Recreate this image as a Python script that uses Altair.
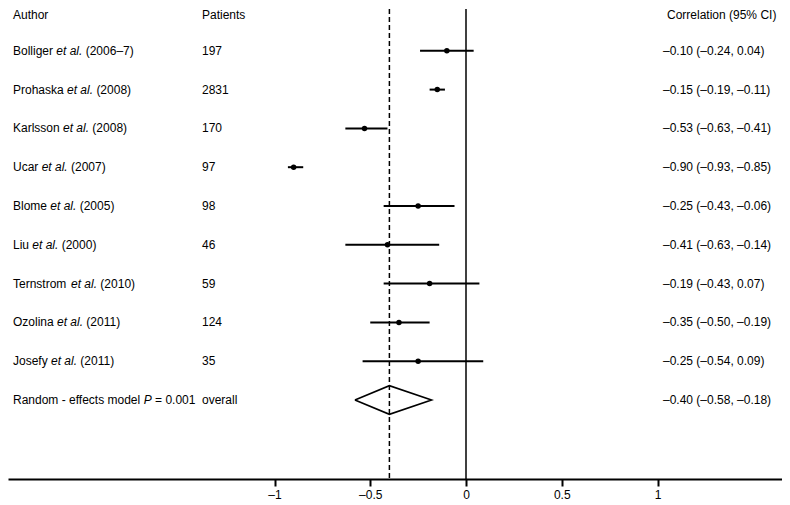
import altair as alt
import pandas as pd

# ---- data ----
names = ["Bolliger", "Prohaska", "Karlsson", "Ucar", "Blome", "Liu", "Ternstrom", "Ozolina", "Josefy"]
years = ["2006–7", "2008", "2008", "2007", "2005", "2000", "2010", "2011", "2011"]
patients = ["197", "2831", "170", "97", "98", "46", "59", "124", "35"]
est = [-0.10, -0.15, -0.53, -0.90, -0.25, -0.41, -0.19, -0.35, -0.25]
lo = [-0.24, -0.19, -0.63, -0.93, -0.43, -0.63, -0.43, -0.50, -0.54]
hi = [0.04, -0.11, -0.41, -0.85, -0.06, -0.14, 0.07, -0.19, 0.09]
pooled = [-0.40, -0.58, -0.18]
pooled_p = "0.001"
tick_values = [-1, -0.5, 0, 0.5, 1]

FONT = "Liberation Sans"
FS = 12

# Arial / Liberation Sans advance widths (units per 1000)
W = {' ': 278, '.': 278, '(': 333, ')': 333, '–': 556, '−': 584, '=': 584, '-': 333,
     'a': 556, 'b': 556, 'c': 500, 'd': 556, 'e': 556, 'f': 278, 'g': 556, 'h': 556,
     'i': 222, 'j': 222, 'k': 500, 'l': 222, 'm': 833, 'n': 556, 'o': 556, 'p': 556,
     'q': 556, 'r': 333, 's': 500, 't': 278, 'u': 556, 'v': 500, 'w': 722, 'x': 500,
     'y': 500, 'z': 500, 'B': 667, 'J': 500, 'K': 667, 'L': 556, 'O': 778, 'P': 667,
     'R': 722, 'T': 611, 'U': 722}
def tw(s):
    return sum(W.get(c, 556) for c in s) * FS / 1000.0

def fmt(v):
    s = f"{abs(v):.2f}"
    return ("–" + s) if v < 0 else s

AUTH_X = 5
PAT_X = 194
COR_X = 655

rows = list(range(1, len(names) + 1))
prow = len(names) + 1

study = pd.DataFrame({"row": rows, "est": est, "lo": lo, "hi": hi})

plain, ital = [], []
for r, n, y, p, e, l, h in zip(rows, names, years, patients, est, lo, hi):
    plain.append({"row": r, "px": AUTH_X, "t": n})
    ital.append({"row": r, "px": AUTH_X + tw(n + " "), "t": "et al."})
    plain.append({"row": r, "px": AUTH_X + tw(n + " et al. "), "t": "(" + y + ")"})
    plain.append({"row": r, "px": PAT_X, "t": p})
    plain.append({"row": r, "px": COR_X, "t": f"{fmt(e)} ({fmt(l)}, {fmt(h)})"})
lab1 = "Random - effects model "
plain.append({"row": prow, "px": AUTH_X, "t": lab1.strip()})
ital.append({"row": prow, "px": AUTH_X + tw(lab1), "t": "P"})
plain.append({"row": prow, "px": AUTH_X + tw(lab1 + "P "), "t": "= " + pooled_p})
plain.append({"row": prow, "px": PAT_X, "t": "overall"})
plain.append({"row": prow, "px": COR_X,
              "t": f"{fmt(pooled[0])} ({fmt(pooled[1])}, {fmt(pooled[2])})"})
plain_df = pd.DataFrame(plain)
ital_df = pd.DataFrame(ital)

headers = pd.DataFrame({"px": [AUTH_X, PAT_X, COR_X + 4],
                        "t": ["Author", "Patients", "Correlation (95% CI)"]})

dh = 0.37
diamond = pd.DataFrame({
    "x": [pooled[1], pooled[0], pooled[2], pooled[0], pooled[1]],
    "row": [prow, prow - dh, prow, prow + dh, prow],
    "o": [0, 1, 2, 3, 4]})

vlines = pd.DataFrame({"v": [0.0]})
dline = pd.DataFrame({"v": [pooled[0]]})

# ---- scales ----
xscale = alt.Scale(domain=[(8 - 466) / 191.5, (782 - 466) / 191.5], nice=False, zero=False)
yscale = alt.Scale(domain=[-3 / 38.8, -3 / 38.8 + 470 / 38.8], reverse=True, nice=False, zero=False)

xaxis = alt.Axis(values=tick_values, title=None, grid=False,
                 labelExpr="datum.value < 0 ? '–' + format(-datum.value, '') : format(datum.value, '')",
                 domainColor="black", domainWidth=2, tickColor="black", tickWidth=2,
                 tickSize=7, labelFont=FONT, labelFontSize=12, labelColor="black",
                 labelPadding=3)

base_rule = alt.Chart(vlines).mark_rule(color="black", strokeWidth=1.5).encode(
    x=alt.X("v:Q", scale=xscale, axis=xaxis))
dash_rule = alt.Chart(dline).mark_rule(color="black", strokeWidth=1.5, strokeDash=[5, 3]).encode(
    x=alt.X("v:Q", scale=xscale))

ci = alt.Chart(study).mark_rule(color="black", strokeWidth=2).encode(
    x=alt.X("lo:Q", scale=xscale), x2="hi:Q",
    y=alt.Y("row:Q", scale=yscale, axis=None))
pts = alt.Chart(study).mark_circle(color="black", size=30, opacity=1).encode(
    x=alt.X("est:Q", scale=xscale), y=alt.Y("row:Q", scale=yscale, axis=None))

dia = alt.Chart(diamond).mark_line(color="black", strokeWidth=1.6).encode(
    x=alt.X("x:Q", scale=xscale), y=alt.Y("row:Q", scale=yscale, axis=None),
    order="o:Q")

txt_plain = alt.Chart(plain_df).mark_text(
    align="left", baseline="middle", font=FONT, fontSize=FS, color="black").encode(
    x=alt.X("px:Q", scale=None), y=alt.Y("row:Q", scale=yscale, axis=None), text="t:N")
txt_ital = alt.Chart(ital_df).mark_text(
    align="left", baseline="middle", font=FONT, fontSize=FS, fontStyle="italic",
    color="black").encode(
    x=alt.X("px:Q", scale=None), y=alt.Y("row:Q", scale=yscale, axis=None), text="t:N")
txt_head = alt.Chart(headers).mark_text(
    align="left", baseline="middle", font=FONT, fontSize=FS, color="black").encode(
    x=alt.X("px:Q", scale=None), y=alt.value(6), text="t:N")

chart = alt.layer(base_rule, dash_rule, ci, pts, dia, txt_plain, txt_ital, txt_head).properties(
    width=774, height=470, padding=0
).configure_view(stroke=None)

chart.save("out.html", embed_options={"renderer": "svg", "actions": False})
